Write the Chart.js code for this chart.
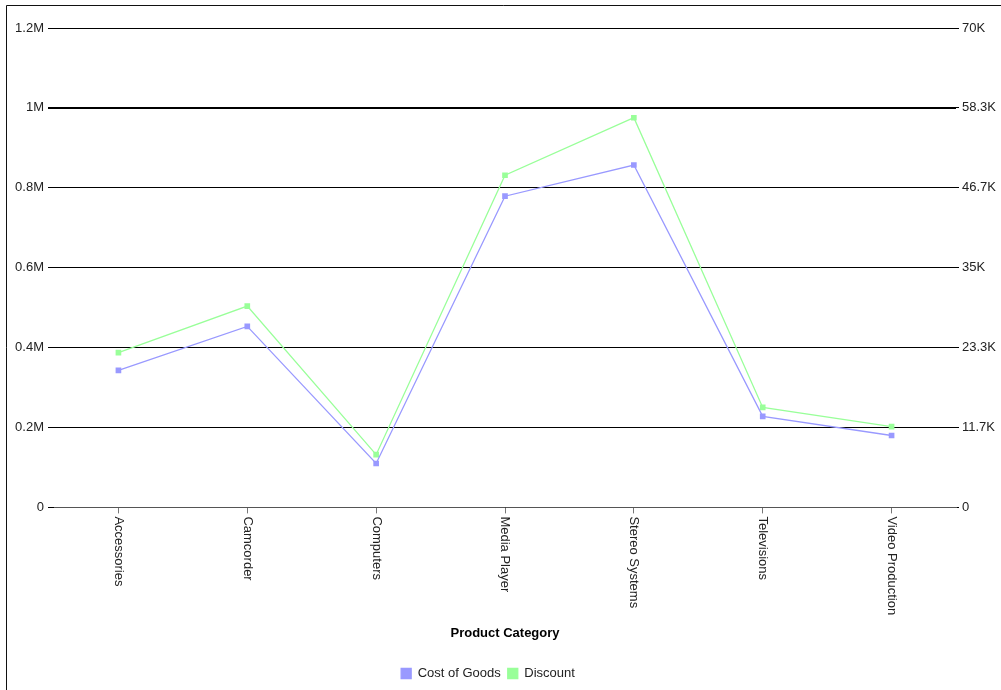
<!DOCTYPE html>
<html>
<head>
<meta charset="utf-8">
<script src="https://cdn.jsdelivr.net/npm/chart.js@4.4.1/dist/chart.umd.min.js"></script>
<style>
  html, body { margin: 0; padding: 0; background: #fff; }
  #wrap { position: absolute; left: 0; top: 0; width: 1001px; height: 690px; }
</style>
</head>
<body>
<div id="wrap"><canvas id="c" width="1001" height="690"></canvas></div>
<script>
const categories = ["Accessories", "Camcorder", "Computers", "Media Player", "Stereo Systems", "Televisions", "Video Production"];
const costOfGoods = [343000, 453000, 110000, 779000, 857000, 228000, 180000];
const discount = [22600, 29400, 7700, 48500, 56900, 14600, 11800];
const leftTickLabels = ["0", "0.2M", "0.4M", "0.6M", "0.8M", "1M", "1.2M"];
const rightTickLabels = ["0", "11.7K", "23.3K", "35K", "46.7K", "58.3K", "70K"];
const xAxisTitle = "Product Category";

const FONT = "'Liberation Sans', Arial, sans-serif";

const framePlugin = {
  id: 'frame',
  beforeDraw(chart) {
    const ctx = chart.ctx;
    ctx.save();
    ctx.fillStyle = '#fff';
    ctx.fillRect(0, 0, chart.width, chart.height);
    ctx.strokeStyle = '#111';
    ctx.lineWidth = 1;
    ctx.beginPath();
    ctx.moveTo(6.5, chart.height);
    ctx.lineTo(6.5, 5.5);
    ctx.lineTo(chart.width, 5.5);
    ctx.stroke();
    ctx.restore();
    if (chart.legend) {
      chart.legend.left = -12;
      chart.legend.right = 988;
    }
  },
  afterDraw(chart) {
    const ctx = chart.ctx;
    const xs = chart.scales.x;
    const top = chart.chartArea.bottom + 9;
    ctx.save();
    ctx.font = "13px " + FONT;
    ctx.fillStyle = '#222';
    ctx.textAlign = 'left';
    ctx.textBaseline = 'middle';
    categories.forEach((c, i) => {
      const x = xs.getPixelForValue(i);
      ctx.save();
      ctx.translate(x, top);
      ctx.rotate(Math.PI / 2);
      ctx.fillText(c, 0, 0);
      ctx.restore();
    });
    ctx.restore();
  }
};

new Chart(document.getElementById('c'), {
  type: 'line',
  data: {
    labels: categories,
    datasets: [
      {
        label: 'Cost of Goods',
        data: costOfGoods,
        yAxisID: 'y',
        borderColor: '#9999ff',
        backgroundColor: '#9999ff',
        borderWidth: 1.3,
        pointStyle: 'rect',
        pointRadius: 4,
        pointBorderWidth: 0,
        pointHoverRadius: 4,
        tension: 0,
        fill: false
      },
      {
        label: 'Discount',
        data: discount,
        yAxisID: 'y1',
        borderColor: '#99ff99',
        backgroundColor: '#99ff99',
        borderWidth: 1.3,
        pointStyle: 'rect',
        pointRadius: 4,
        pointBorderWidth: 0,
        pointHoverRadius: 4,
        tension: 0,
        fill: false
      }
    ]
  },
  options: {
    responsive: false,
    animation: false,
    devicePixelRatio: 1,
    layout: { padding: { top: 28, left: 0, right: 0, bottom: 0 } },
    plugins: {
      legend: {
        position: 'bottom',
        labels: {
          boxWidth: 10,
          boxHeight: 10,
          padding: 7,
          color: '#222',
          font: { family: FONT, size: 13 }
        }
      },
      tooltip: { enabled: false }
    },
    scales: {
      x: {
        type: 'category',
        offset: true,
        grid: {
          display: true,
          drawOnChartArea: false,
          drawTicks: true,
          tickLength: 6,
          color: '#777',
          offset: false
        },
        border: { display: true, color: '#555', width: 1 },
        ticks: { display: false },
        title: {
          display: true,
          text: xAxisTitle,
          color: '#000',
          font: { family: FONT, size: 13, weight: 'bold' },
          padding: { top: 112, bottom: 19 }
        }
      },
      y: {
        type: 'linear',
        position: 'left',
        min: 0,
        max: 1200000,
        afterFit(s) { s.width = 54; },
        ticks: {
          count: 7,
          padding: 4,
          color: '#222',
          font: { family: FONT, size: 13 },
          callback: (v, i) => leftTickLabels[i]
        },
        grid: {
          color: '#000',
          lineWidth: (c) => (c.tick && c.tick.value === 1000000 ? 2 : 1),
          tickLength: 6,
          drawTicks: true
        },
        border: { display: false }
      },
      y1: {
        type: 'linear',
        position: 'right',
        min: 0,
        max: 70000,
        afterFit(s) { s.width = 45; },
        ticks: {
          count: 7,
          padding: 3,
          color: '#222',
          font: { family: FONT, size: 13 },
          callback: (v, i) => rightTickLabels[i]
        },
        grid: {
          color: '#000',
          drawOnChartArea: false,
          tickLength: 3,
          drawTicks: true
        },
        border: { display: false }
      }
    }
  },
  plugins: [framePlugin]
});
</script>
</body>
</html>
